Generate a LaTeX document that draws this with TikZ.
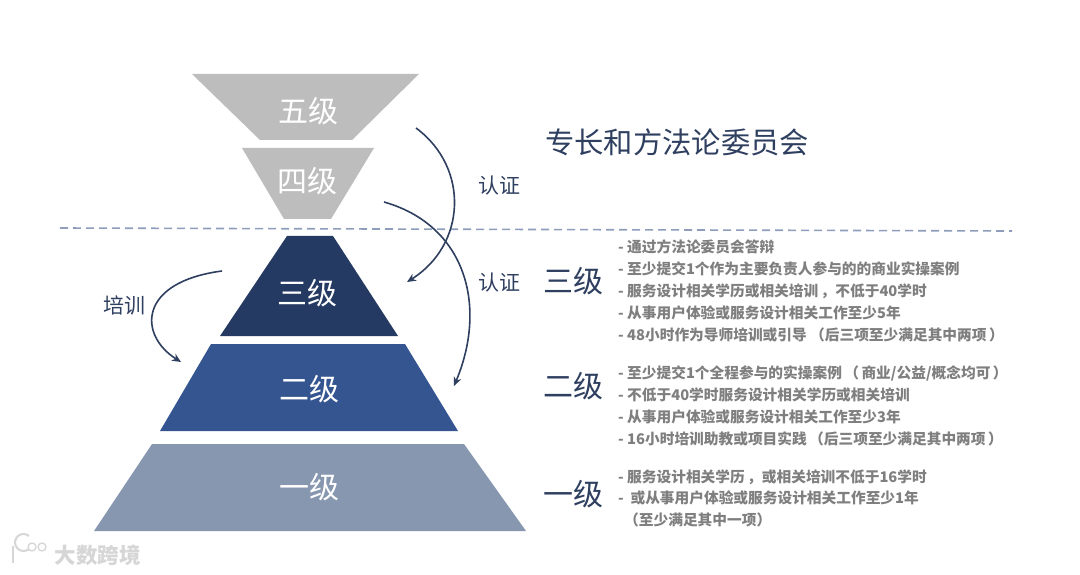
\documentclass[tikz,border=0pt]{standalone}
\usepackage{fontspec}
\setmainfont{Noto Sans CJK SC}
\usetikzlibrary{arrows.meta}
\definecolor{lvgray}{HTML}{BDBDBD}
\definecolor{lvnavy}{HTML}{253A62}
\definecolor{lvblue}{HTML}{355591}
\definecolor{lvslate}{HTML}{8797B0}
\definecolor{inkblue}{HTML}{2F3F60}
\definecolor{listgray}{HTML}{7F7F7F}
\definecolor{dashc}{HTML}{8E9DBB}
\definecolor{wm}{HTML}{D6D6D6}
\tikzset{
  x=1pt,y=-1pt,
  level/.style={text=white,font=\fontsize{30}{30}\selectfont,inner sep=0pt},
  head/.style={text=inkblue,font=\fontsize{30}{30}\selectfont,inner sep=0pt},
  tag/.style={text=inkblue,font=\fontsize{21}{21}\selectfont,inner sep=0pt},
  title/.style={text=inkblue,font=\fontsize{29.3}{29.3}\selectfont,inner sep=0pt,anchor=west},
  item/.style={text=listgray,font=\bfseries\fontsize{14.7}{14.7}\selectfont,inner sep=0pt,anchor=west},
  curve/.style={draw=inkblue,line width=1.6pt,-{Stealth[length=9pt,width=8pt]}},
}
\begin{document}
\begin{tikzpicture}
\useasboundingbox (0,0) rectangle (1080,575);
\fill[white] (0,0) rectangle (1080,575);
% pyramid
\fill[lvgray] (192,74)--(419,74)--(352,140)--(260,140)--cycle;
\fill[lvgray] (242,148)--(374,148)--(331,219)--(284,219)--cycle;
\fill[lvnavy] (287,236)--(333,236)--(398,336)--(220,336)--cycle;
\fill[lvblue] (211,344)--(405,344)--(458,431)--(160,431)--cycle;
\fill[lvslate] (152,444)--(464,444)--(526,531)--(94,531)--cycle;
\node[level] (l5) at (308,111) {五级};
\node[level] (l4) at (307,181) {四级};
\node[level] (l3) at (307,293) {三级};
\node[level] (l2) at (309,389) {二级};
\node[level] (l1) at (309,487) {一级};
% dashed divider
\coordinate (dl) at (60,228);
\coordinate (dr) at (1012,231);
\draw[dashc,line width=1.6pt,dash pattern=on 8pt off 5pt] (dl)--(dr);
% title and tags
\node[title] (t) at (545,142) {专长和方法论委员会};
\node[tag] (r1) at (499,186) {认证};
\node[tag] (r2) at (499,283) {认证};
\node[tag] (px) at (124,305) {培训};
% curves
\coordinate (a1) at (416,128); \coordinate (a2) at (407,282);
\coordinate (b1) at (384,202); \coordinate (b2) at (454,386);
\coordinate (c1) at (222,271); \coordinate (c2) at (181,362);
\draw[curve] (a1) .. controls (470,168) and (466,245) .. (a2);
\draw[curve] (b1) .. controls (465,225) and (488,305) .. (b2);
\draw[curve] (c1) .. controls (138,282) and (138,335) .. (c2);
% headings
\node[head] (h3) at (573,281) {三级};
\node[head] (h2) at (573,386) {二级};
\node[head] (h1) at (573,494) {一级};
% lists
\node[item] (i1) at (618,247) {- 通过方法论委员会答辩};
\node[item] (i2) at (618,269) {- 至少提交1个作为主要负责人参与的的商业实操案例};
\node[item] (i3) at (618,291) {- 服务设计相关学历或相关培训\,，不低于40学时};
\node[item] (i4) at (618,313) {- 从事用户体验或服务设计相关工作至少5年};
\node[item] (i5) at (618,335) {- 48小时作为导师培训或引导\ （后三项至少满足其中两项\,）};
\node[item] (j1) at (618,373) {- 至少提交1个全程参与的实操案例\,（\,商业/公益/概念均可\,）};
\node[item] (j2) at (618,395) {- 不低于40学时服务设计相关学历或相关培训};
\node[item] (j3) at (618,417) {- 从事用户体验或服务设计相关工作至少3年};
\node[item] (j4) at (618,439) {- 16小时培训助教或项目实践\,（后三项至少满足其中两项\,）};
\node[item] (k1) at (618,477) {- 服务设计相关学历\,，或相关培训不低于16学时};
\node[item] (k2) at (618,498) {-\ \ 或从事用户体验或服务设计相关工作至少1年};
\node[item] (k3) at (624,520) {（至少满足其中一项）};
% watermark
\draw[wm,line width=2pt] (13,546)--(13,563);
\draw[wm,line width=2pt] (29,549) arc (50:310:8.5);
\draw[wm,line width=1.3pt] (32,547) circle (4);
\draw[wm,line width=1.3pt] (42,547) circle (4);
\node[text=wm,font=\bfseries\fontsize{21.5}{21.5}\selectfont,inner sep=0pt] (wmt) at (97.5,555) {大数跨境};
\end{tikzpicture}
\end{document}
